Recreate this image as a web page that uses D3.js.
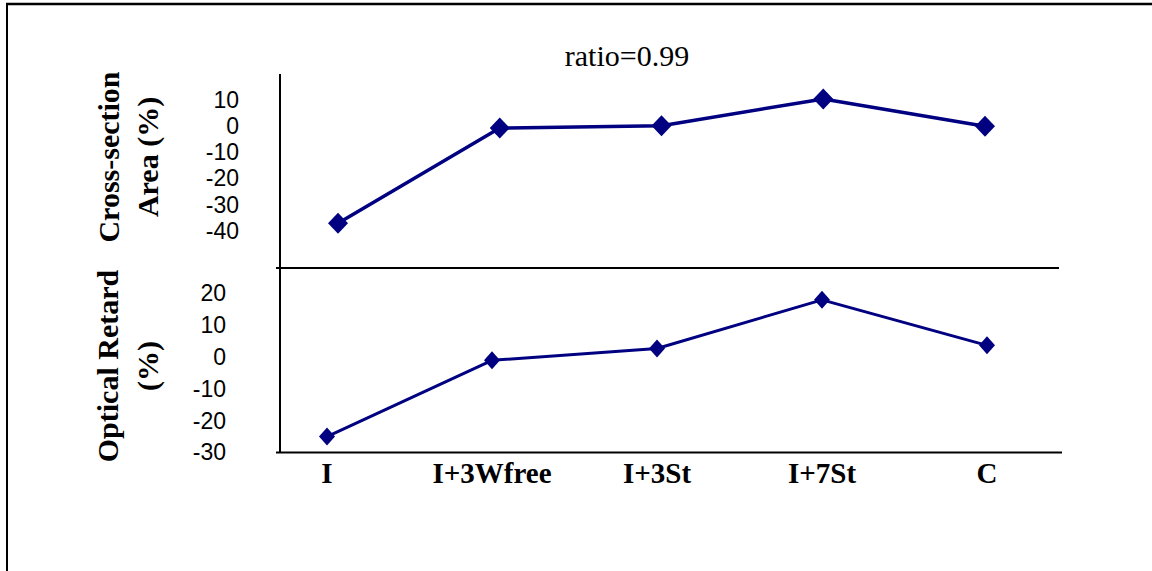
<!DOCTYPE html>
<html>
<head>
<meta charset="utf-8">
<script src="https://cdn.jsdelivr.net/npm/d3@7"></script>
<style>
  body { margin: 0; background: #fff; }
  svg { display: block; }
</style>
</head>
<body>
<div id="chart"></div>
<script>
// data
const categories = ['I', 'I+3Wfree', 'I+3St', 'I+7St', 'C'];
const areaValues = [-37, -0.7, 0.2, 10.4, 0];
const retardValues = [-25, -1, 2.7, 18, 3.7];
const areaTicks = [10, 0, -10, -20, -30, -40];
const retardTicks = [20, 10, 0, -10, -20, -30];
const titleText = 'ratio=0.99';

const width = 1152, height = 571;
const navy = '#000080';
const axisX = 280;

const svg = d3.select('#chart').append('svg')
	.attr('width', width)
	.attr('height', height);

// outer frame (top and left edges only show in the picture)
svg.append('line').attr('x1', 6).attr('y1', 4).attr('x2', width).attr('y2', 4)
	.attr('stroke', '#000').attr('stroke-width', 2.5);
svg.append('line').attr('x1', 7).attr('y1', 3).attr('x2', 7).attr('y2', height)
	.attr('stroke', '#000').attr('stroke-width', 2);

// scales
const xTop = d3.scalePoint().domain(categories).range([338, 985]);
const xBot = d3.scalePoint().domain(categories).range([327, 987]);
const yTop = d3.scaleLinear().domain([-40, 10]).range([231, 100]);
const yBot = d3.scaleLinear().domain([-30, 20]).range([452.5, 293.5]);

/** Helper. Diamond path of given half width / half height. */
function diamond(hw, hh) {
	return `M0,${-hh}L${hw},0L0,${hh}L${-hw},0Z`;
}

/** Helper. Draws a line series with diamond markers. */
function drawSeries(values, x, y, lineWidth, hw, hh) {
	const g = svg.append('g');
	const line = d3.line()
		.x((d, i) => x(categories[i]))
		.y(d => y(d));
	g.append('path')
		.datum(values)
		.attr('d', line)
		.attr('fill', 'none')
		.attr('stroke', navy)
		.attr('stroke-width', lineWidth)
		.attr('stroke-linejoin', 'round');
	g.selectAll('path.marker')
		.data(values)
		.enter()
		.append('path')
		.classed('marker', true)
		.attr('transform', (d, i) => `translate(${x(categories[i])},${y(d)})`)
		.attr('d', diamond(hw, hh))
		.attr('fill', navy);
}

/** Helper. Left tick labels without tick marks or domain line. */
function drawTicks(scale, ticks, rightEdge) {
	const g = svg.append('g')
		.attr('transform', `translate(${rightEdge},0)`)
		.call(d3.axisLeft(scale).tickValues(ticks).tickSize(0).tickPadding(0).tickFormat(d => String(d)));
	g.select('.domain').remove();
	g.selectAll('text')
		.attr('font-family', '"Liberation Sans", Arial, sans-serif')
		.attr('font-size', 23)
		.attr('fill', '#000');
}

// axes lines
const axisLines = svg.append('g').attr('stroke', '#000').attr('stroke-width', 2);
axisLines.append('line').attr('x1', axisX).attr('y1', 74).attr('x2', axisX).attr('y2', 452);
axisLines.append('line').attr('x1', 276).attr('y1', 268).attr('x2', 1059).attr('y2', 268);
axisLines.append('line').attr('x1', 276).attr('y1', 452.5).attr('x2', 1062).attr('y2', 452.5);

drawTicks(yTop, areaTicks, 239);
drawTicks(yBot, retardTicks, 226);

drawSeries(areaValues, xTop, yTop, 3.5, 10, 10.5);
drawSeries(retardValues, xBot, yBot, 3, 8, 9);

// category labels
svg.append('g').selectAll('text')
	.data(categories)
	.enter()
	.append('text')
	.attr('x', d => xBot(d))
	.attr('y', 483)
	.attr('text-anchor', 'middle')
	.attr('font-family', '"Liberation Serif", "Times New Roman", serif')
	.attr('font-weight', 'bold')
	.attr('font-size', 29)
	.text(d => d);

// title
svg.append('text')
	.attr('x', 627)
	.attr('y', 66)
	.attr('text-anchor', 'middle')
	.attr('font-family', '"Liberation Serif", "Times New Roman", serif')
	.attr('font-size', 30)
	.text(titleText);

// y-axis titles (rotated, two lines each)
const yTitles = [
	{ text: 'Cross-section', x: 108, y: 157 },
	{ text: 'Area (%)', x: 147, y: 157 },
	{ text: 'Optical Retard', x: 107, y: 366 },
	{ text: '(%)', x: 147, y: 366 },
];
svg.append('g').selectAll('text')
	.data(yTitles)
	.enter()
	.append('text')
	.attr('transform', d => `translate(${d.x},${d.y}) rotate(-90)`)
	.attr('text-anchor', 'middle')
	.attr('dominant-baseline', 'central')
	.attr('font-family', '"Liberation Serif", "Times New Roman", serif')
	.attr('font-weight', 'bold')
	.attr('font-size', 30)
	.text(d => d.text);
</script>
</body>
</html>
